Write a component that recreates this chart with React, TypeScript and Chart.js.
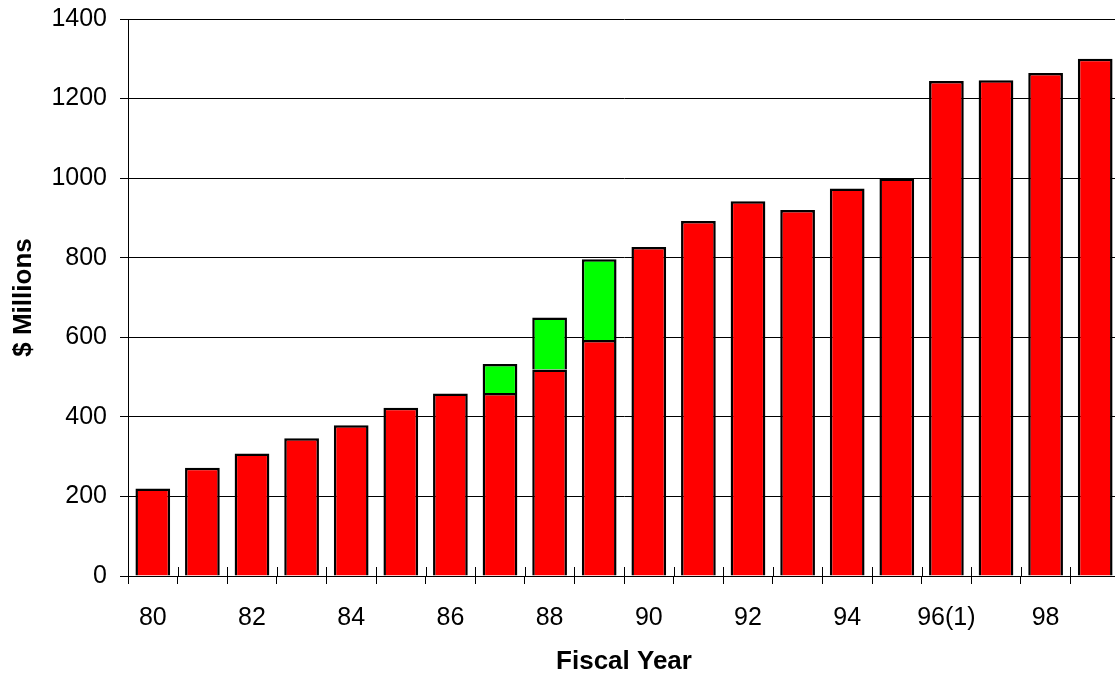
import React, { useEffect, useRef } from "react";
import { Chart, registerables } from "chart.js";

Chart.register(...registerables);

const categories = ["80", "81", "82", "83", "84", "85", "86", "87", "88", "89", "90", "91", "92", "93", "94", "95", "96(1)", "97", "98", "99"];
const xTickLabels = ["80", "", "82", "", "84", "", "86", "", "88", "", "90", "", "92", "", "94", "", "96(1)", "", "98", ""];
const baseValues = [220, 272, 308, 346, 379, 423, 459, 460, 519, 593, 827, 892, 942, 920, 974, 999, 1244, 1246, 1264, 1300];
const addedValues = [null, null, null, null, null, null, null, 73, 131, 203, null, null, null, null, null, null, null, null, null, null];
const yTicks = [0, 200, 400, 600, 800, 1000, 1200, 1400];

const FONT = "'Liberation Sans', Arial, sans-serif";

const innerTicks = {
  id: "innerTicks",
  afterDraw(chart: any) {
    const x = chart.scales.x;
    const ctx = chart.ctx;
    const n = categories.length;
    const step = x.getPixelForValue(1) - x.getPixelForValue(0);
    const bottom = chart.chartArea.bottom;
    ctx.save();
    ctx.strokeStyle = "#000";
    ctx.lineWidth = 1;
    ctx.beginPath();
    for (let i = 0; i <= n; i++) {
      const px = Math.round(x.getPixelForValue(0) - step / 2 + i * step) + 0.5;
      ctx.moveTo(px, bottom - 9);
      ctx.lineTo(px, bottom);
    }
    ctx.stroke();
    ctx.restore();
  },
};

export default function App() {
  const ref = useRef<HTMLCanvasElement>(null);
  useEffect(() => {
    if (!ref.current) return;
    const chart = new Chart(ref.current, {
      type: "bar",
      data: {
        labels: categories,
        datasets: [
          {
            data: baseValues,
            backgroundColor: "#FF0000",
            borderColor: "#000",
            borderWidth: 2.5,
            barPercentage: 0.7,
            categoryPercentage: 1,
          },
          {
            data: addedValues as any,
            backgroundColor: "#00FF00",
            borderColor: "#000",
            borderWidth: 2.5,
            barPercentage: 0.7,
            categoryPercentage: 1,
          },
        ],
      },
      options: {
        responsive: false,
        animation: false,
        layout: { padding: { top: 19, left: 0, right: 0, bottom: 0 } },
        plugins: { legend: { display: false }, tooltip: { enabled: false } },
        scales: {
          x: {
            stacked: true,
            afterFit: (s: any) => { s.height = 101; s.paddingLeft = 0; s.paddingRight = 0; },
            grid: { drawOnChartArea: false, tickLength: 8, color: "#000", offset: true },
            border: { color: "#000", width: 1 },
            ticks: {
              autoSkip: false,
              maxRotation: 0,
              padding: 19,
              color: "#000",
              font: { family: FONT, size: 25 },
              callback: (_v: any, i: number) => xTickLabels[i],
            },
            title: { display: true, text: "Fiscal Year", color: "#000", font: { family: FONT, size: 26, weight: "bold" }, padding: { top: 0, bottom: 0 } },
          },
          y: {
            stacked: true,
            min: 0,
            max: 1400,
            afterFit: (s: any) => { s.width = 128; s.paddingTop = 0; s.paddingBottom = 0; },
            afterBuildTicks: (s: any) => { s.ticks = yTicks.map((v) => ({ value: v })); },
            grid: { color: "#000", tickLength: 8, lineWidth: 1 },
            border: { color: "#000", width: 1 },
            ticks: { padding: 13, color: "#000", font: { family: FONT, size: 25 }, callback: (v: any) => String(v) },
            title: { display: true, text: "$ Millions", color: "#000", font: { family: FONT, size: 26, weight: "bold" }, padding: { top: 8, bottom: 0 } },
          },
        },
      },
      plugins: [innerTicks],
    });
    return () => chart.destroy();
  }, []);
  return (
    <div style={{ position: "fixed", left: 0, top: 0, width: 1115, height: 677, overflow: "hidden", background: "#fff" }}>
      <canvas ref={ref} width={1120} height={677} style={{ display: "block" }} />
    </div>
  );
}
